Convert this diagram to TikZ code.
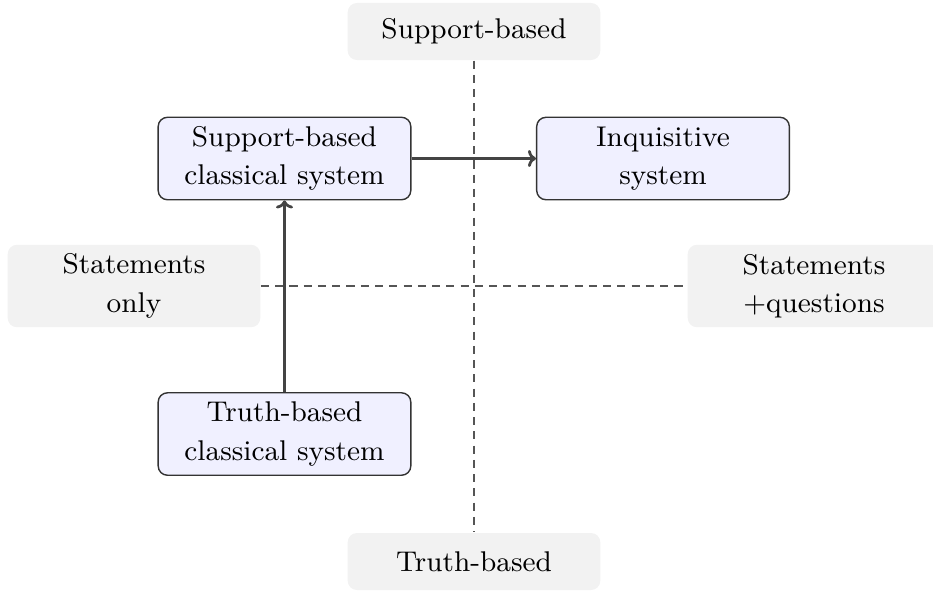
\documentclass[tikz,border=0pt]{standalone}
\usetikzlibrary{arrows.meta}
\definecolor{sysfill}{HTML}{F0F0FF}
\definecolor{sysdraw}{HTML}{333333}
\definecolor{labfill}{HTML}{F2F2F2}
\definecolor{arrcol}{HTML}{444444}
\definecolor{dashcol}{HTML}{555555}
\tikzset{
  base/.style={font=\fontsize{9.2pt}{12.4pt}\selectfont},
  sysbox/.style={base, draw=sysdraw, fill=sysfill, rounded corners=3pt, line width=0.45pt,
    minimum width=81.5pt, minimum height=26.6pt, align=center, inner sep=2pt},
  labbox/.style={base, fill=labfill, rounded corners=3pt, minimum width=81.5pt,
    align=center, inner sep=2pt},
  axisline/.style={draw=dashcol, line width=0.45pt, dash pattern=on 2.6pt off 2pt},
  flow/.style={draw=arrcol, line width=0.9pt, -{To[length=2.6pt,width=5.5pt]}}
}
\begin{document}
\begin{tikzpicture}[x=0.3226pt, y=-0.3226pt]
\useasboundingbox (0,0) rectangle (933,592);
\node[labbox, minimum height=18.4pt] (top) at (474,31.5) {Support-based};
\node[labbox, minimum height=18.4pt] (bot) at (474,561.5) {Truth-based};
\node[labbox, minimum height=26.6pt] (left) at (134,286) {Statements\\only};
\node[labbox, minimum height=26.6pt] (right) at (814,286) {Statements\\+questions};
\draw[axisline] (top.south) -- (bot.north);
\draw[axisline] (left.east) -- (right.west);
\node[sysbox] (sbc) at (284.5,158.5) {Support-based\\classical system};
\node[sysbox] (inq) at (663,158.5) {Inquisitive\\system};
\node[sysbox] (tbc) at (284.5,434) {Truth-based\\classical system};
\draw[flow] (tbc.north) -- (sbc.south);
\draw[flow] (sbc.east) -- (inq.west);
\end{tikzpicture}
\end{document}
